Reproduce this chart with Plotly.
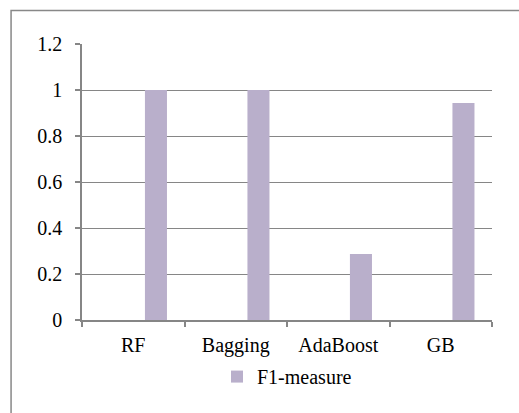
import plotly.graph_objects as go

# Classifier scores
models = ["RF", "Bagging", "AdaBoost", "GB"]
f1_measure = [1.0, 1.0, 0.287, 0.944]

y_ticks = [0, 0.2, 0.4, 0.6, 0.8, 1.0, 1.2]
y_tick_text = ["0", "0.2", "0.4", "0.6", "0.8", "1", "1.2"]

FONT = "'Times New Roman', 'Liberation Serif', serif"
GRID = "#868686"
BAR = "#B9AFCB"

fig = go.Figure()
fig.add_trace(go.Bar(
    x=models,
    y=f1_measure,
    name="F1-measure",
    marker=dict(color=BAR, line=dict(width=0)),
    width=0.215,
    offset=0.114,
))

fig.update_layout(
    width=519,
    height=413,
    margin=dict(l=82, r=27, t=44, b=93, autoexpand=False),
    paper_bgcolor="white",
    plot_bgcolor="white",
    font=dict(family=FONT, size=20, color="#000000"),
    showlegend=True,
    legend=dict(
        orientation="h",
        x=0.5, xanchor="center",
        y=-0.205, yanchor="middle",
        font=dict(family=FONT, size=20, color="#000000"),
        itemwidth=30,
        bgcolor="rgba(0,0,0,0)",
    ),
    bargap=0.333,
    xaxis=dict(
        type="category",
        range=[-0.5, 3.5],
        showgrid=False,
        showline=True,
        linecolor=GRID,
        linewidth=1.5,
        ticks="outside",
        tickson="boundaries",
        ticklen=5,
        tickcolor=GRID,
        tickwidth=1.5,
        tickfont=dict(family=FONT, size=20, color="#000000"),
        ticklabelstandoff=6,
        automargin=False,
    ),
    yaxis=dict(
        range=[0, 1.2],
        tickvals=y_ticks,
        ticktext=y_tick_text,
        showgrid=True,
        gridcolor=GRID,
        gridwidth=1.2,
        showline=True,
        linecolor=GRID,
        linewidth=1.5,
        ticks="outside",
        ticklen=5,
        tickcolor=GRID,
        tickwidth=1.5,
        zeroline=False,
        tickfont=dict(family=FONT, size=20, color="#000000"),
        ticklabelstandoff=9,
        automargin=False,
    ),
    shapes=[dict(
        type="rect",
        xref="paper", yref="paper",
        x0=-0.173, x1=1.2, y0=-0.5, y1=1.121,
        line=dict(color="#888888", width=1.5),
        fillcolor="rgba(0,0,0,0)",
        layer="below",
    )],
)

fig.write_html("out.html")
